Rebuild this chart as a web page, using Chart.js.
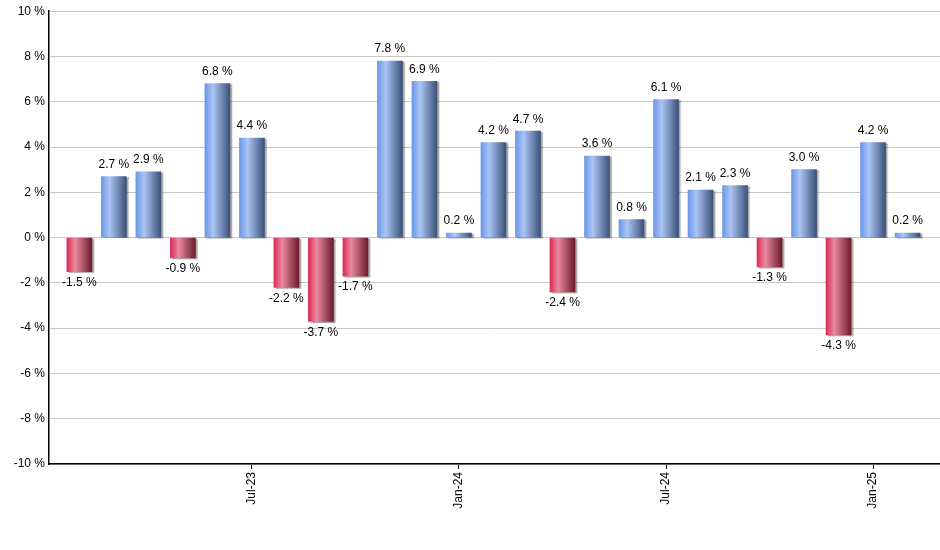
<!DOCTYPE html>
<html>
<head>
<meta charset="utf-8">
<script src="https://cdn.jsdelivr.net/npm/chart.js@4/dist/chart.umd.min.js"></script>
<style>
  html, body { margin: 0; padding: 0; background: #fff; }
  #wrap { width: 940px; height: 550px; position: relative; }
</style>
</head>
<body>
<div id="wrap"><canvas id="grafico"></canvas></div>
<script>
// months, Feb-23 .. Feb-25
const meses = ['Feb-23','Mar-23','Apr-23','May-23','Jun-23','Jul-23','Aug-23','Sep-23','Oct-23','Nov-23','Dec-23',
  'Jan-24','Feb-24','Mar-24','Apr-24','May-24','Jun-24','Jul-24','Aug-24','Sep-24','Oct-24','Nov-24','Dec-24',
  'Jan-25','Feb-25'];
const retornos = [-1.5, 2.7, 2.9, -0.9, 6.8, 4.4, -2.2, -3.7, -1.7, 7.8, 6.9, 0.2, 4.2, 4.7, -2.4, 3.6, 0.8, 6.1,
  2.1, 2.3, -1.3, 3.0, -4.3, 4.2, 0.2];
const mesesVisibles = ['Jul-23', 'Jan-24', 'Jul-24', 'Jan-25'];
const yTicks = [-10, -8, -6, -4, -2, 0, 2, 4, 6, 8, 10];

const ANCHO_BARRA = 25;
const FUENTE = '"Liberation Sans", Arial, sans-serif';

function degradado(context) {
  const chart = context.chart;
  const x = chart.scales.x;
  const pos = context.parsed && context.parsed.y >= 0;
  if (!x || !context.parsed) return '#7aa0e8';
  const cx = x.getPixelForValue(context.parsed.x);
  if (!isFinite(cx)) return pos ? '#7aa0e8' : '#c23a5a';
  const g = chart.ctx.createLinearGradient(cx - ANCHO_BARRA / 2, 0, cx + ANCHO_BARRA / 2, 0);
  if (pos) {
    g.addColorStop(0, '#6b97e8');
    g.addColorStop(0.33, '#abc5f4');
    g.addColorStop(1, '#3b5179');
  } else {
    g.addColorStop(0, '#dd2b57');
    g.addColorStop(0.33, '#ea8a9e');
    g.addColorStop(1, '#6c1a2c');
  }
  return g;
}

const sombra = {
  id: 'sombra',
  beforeDatasetsDraw(chart) {
    const ctx = chart.ctx;
    ctx.save();
    ctx.shadowColor = 'rgba(0,0,0,0.35)';
    ctx.shadowOffsetX = 2;
    ctx.shadowOffsetY = 1;
    ctx.shadowBlur = 1;
  },
  afterDatasetsDraw(chart) {
    chart.ctx.restore();
  }
};

const etiquetas = {
  id: 'etiquetas',
  afterDatasetsDraw(chart) {
    const ctx = chart.ctx;
    const meta = chart.getDatasetMeta(0);
    ctx.save();
    ctx.font = '12px ' + FUENTE;
    ctx.fillStyle = '#000';
    ctx.textAlign = 'center';
    meta.data.forEach((bar, i) => {
      const v = retornos[i];
      const txt = v.toFixed(1) + ' %';
      if (v >= 0) {
        ctx.textBaseline = 'bottom';
        ctx.fillText(txt, bar.x, bar.y - 6);
      } else {
        ctx.textBaseline = 'top';
        ctx.fillText(txt, bar.x, bar.y + 5);
      }
    });
    ctx.restore();
  }
};

new Chart(document.getElementById('grafico').getContext('2d'), {
  type: 'bar',
  data: {
    datasets: [{
      data: retornos.map((v, i) => ({ x: i, y: v })),
      backgroundColor: degradado,
      borderWidth: 0,
      barThickness: ANCHO_BARRA
    }]
  },
  options: {
    responsive: true,
    maintainAspectRatio: false,
    animation: false,
    layout: { padding: { top: 9, right: 0, left: 0, bottom: 0 } },
    plugins: { legend: { display: false }, tooltip: { enabled: false } },
    scales: {
      x: {
        type: 'linear',
        offset: false,
        min: -0.88,
        max: 24.94,
        afterBuildTicks(scale) {
          scale.ticks = mesesVisibles.map(m => ({ value: meses.indexOf(m) }));
        },
        afterFit(scale) { scale.height = 86; },
        ticks: {
          autoSkip: false,
          minRotation: 90,
          maxRotation: 90,
          padding: 3,
          color: '#000',
          font: { family: FUENTE, size: 12 },
          callback: (v) => meses[v]
        },
        grid: { offset: false, drawOnChartArea: false, drawTicks: true, tickLength: 5, color: '#000' },
        border: { display: true, color: '#000', width: 1.5 }
      },
      y: {
        min: -10,
        max: 10,
        afterBuildTicks(scale) {
          scale.ticks = yTicks.map(v => ({ value: v }));
        },
        afterFit(scale) { scale.width = 49; },
        ticks: {
          padding: 4,
          color: '#000',
          font: { family: FUENTE, size: 12 },
          callback: (v) => v + ' %'
        },
        grid: { color: '#c8c8c8', drawTicks: false },
        border: { display: true, color: '#000', width: 1.5 }
      }
    }
  },
  plugins: [sombra, etiquetas]
});
</script>
</body>
</html>
